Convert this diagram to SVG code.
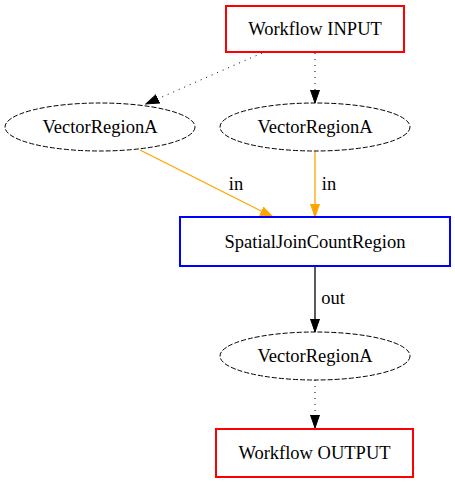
<svg xmlns="http://www.w3.org/2000/svg" width="455" height="483" viewBox="0 0 455 483">
<style>
text{font-family:"Liberation Serif","Times New Roman",serif;font-size:18.5px;text-anchor:middle;fill:#000}
.io{fill:#fff;stroke:#f00;stroke-width:2}
.proc{fill:#fff;stroke:#00f;stroke-width:2}
.data{fill:#fff;stroke:#000;stroke-width:1;stroke-dasharray:5,2}
.dot{fill:none;stroke:#000;stroke-width:1;stroke-dasharray:1,5}
.org{fill:none;stroke:#ffa500;stroke-width:1.3}
.blk{fill:none;stroke:#000;stroke-width:1.3}
</style>
<defs>
<marker id="ab" markerWidth="14" markerHeight="14" refX="13" refY="7" orient="auto" markerUnits="userSpaceOnUse"><path d="M0,2.5 L13,7 L0,11.5 Z" fill="#000" stroke="#000"/></marker>
<marker id="ao" markerWidth="14" markerHeight="14" refX="13" refY="7" orient="auto" markerUnits="userSpaceOnUse"><path d="M0,2.5 L13,7 L0,11.5 Z" fill="#ffa500" stroke="#ffa500"/></marker>
</defs>
<rect width="455" height="483" fill="#fff"/>
<g id="connectors">
<path class="dot" d="M262,53 L146,104" marker-end="url(#ab)"/>
<path class="dot" d="M315,53 L315,103" marker-end="url(#ab)"/>
<path class="org" d="M140,150 L273,217" marker-end="url(#ao)"/>
<text x="236" y="190">in</text>
<path class="org" d="M315,151 L315,217" marker-end="url(#ao)"/>
<text x="329" y="190">in</text>
<path class="blk" d="M315,266 L315,332" marker-end="url(#ab)"/>
<text x="333" y="304">out</text>
<path class="dot" d="M315,380 L315,428" marker-end="url(#ab)"/>
</g>
<g id="input"><rect class="io" x="226" y="6" width="178" height="46"/><text x="315" y="35">Workflow INPUT</text></g>
<g id="vra1"><ellipse class="data" cx="100" cy="127" rx="95" ry="24"/><text x="100" y="133">VectorRegionA</text></g>
<g id="vra2"><ellipse class="data" cx="315" cy="127" rx="95" ry="24"/><text x="315" y="133">VectorRegionA</text></g>
<g id="sjcr"><rect class="proc" x="180" y="217" width="270" height="49"/><text x="315" y="248">SpatialJoinCountRegion</text></g>
<g id="vra3"><ellipse class="data" cx="315" cy="356" rx="95" ry="24"/><text x="315" y="362">VectorRegionA</text></g>
<g id="output"><rect class="io" x="216" y="429" width="197" height="48"/><text x="314.5" y="459">Workflow OUTPUT</text></g>
</svg>
